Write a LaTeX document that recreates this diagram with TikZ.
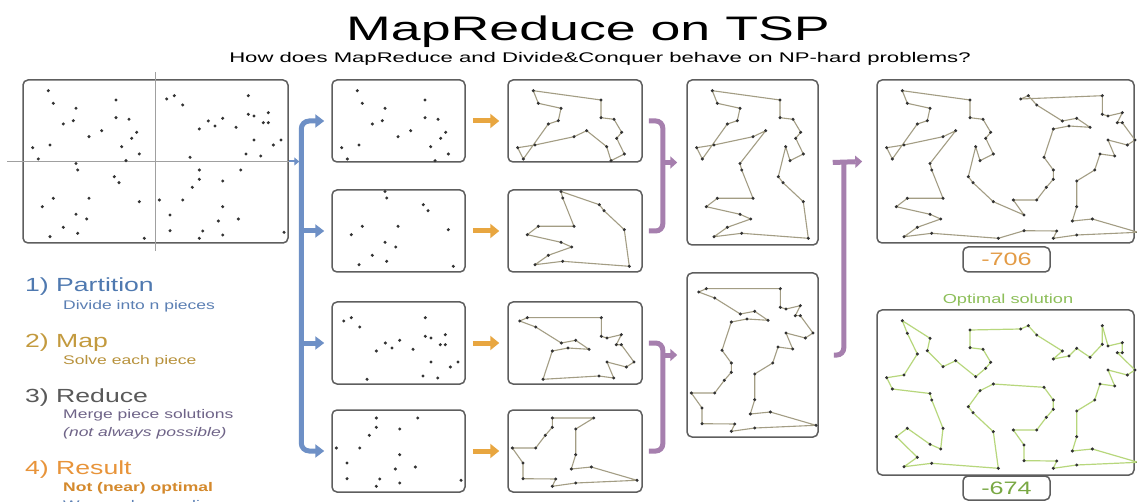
\documentclass[tikz,border=0pt]{standalone}
\usepackage{fontspec}
\setmainfont{Liberation Sans}
\usepackage{graphicx}
\usetikzlibrary{arrows.meta}
\definecolor{boxc}{HTML}{5E5E5E}
\definecolor{dotc}{HTML}{333333}
\definecolor{tourc}{HTML}{A39D84}
\definecolor{optc}{HTML}{B7D77C}
\definecolor{bluec}{HTML}{6E90C6}
\definecolor{orc}{HTML}{E8A640}
\definecolor{purc}{HTML}{A67FAE}
\definecolor{crossc}{HTML}{A0A0A0}
\definecolor{t1}{HTML}{4F79B0}
\definecolor{t1s}{HTML}{5B7FB3}
\definecolor{t2}{HTML}{C39A3E}
\definecolor{t2s}{HTML}{B8923C}
\definecolor{t3}{HTML}{595959}
\definecolor{t3s}{HTML}{6F6488}
\definecolor{t4}{HTML}{E8943A}
\definecolor{t4s}{HTML}{D4892C}
\definecolor{badc}{HTML}{E39B45}
\definecolor{goodc}{HTML}{79A843}
\definecolor{goodt}{HTML}{8DBF5A}
\newcommand\sx[1]{\scalebox{1.4}[1]{#1}}
\newcommand\sxw[1]{\scalebox{1.58}[1]{#1}}
\newcommand\allpts{%
\foreach \i/\px/\py in {1/48.3/90.7,2/53.3/103.3,3/76/108.3,4/116/100,5/63.3/124,6/73.3/120.7,7/116/117.7,8/129/119.3,9/101.7/130.7,10/136.7/132.3,11/89/136.7,12/131.7/138.3,13/50/145,14/121.7/146.7,15/32.7/147.7,16/139.3/154,17/38.3/159,18/126/160.7,
19/76/163.5,20/77.7/170,21/114.3/176.7,22/119/182.7,23/53.3/198.3,24/89/198.3,25/139.3/201.7,26/42.3/206.7,27/76/214.3,28/86.7/219,29/63.3/227.3,30/77.7/233.3,31/50/236.7,32/144.3/238.3,
33/166.7/99,34/174.3/95.7,35/182.7/105,36/248.3/95.7,37/248.3/114.3,38/254/116,39/268.3/112.7,40/208.3/121,41/222.7/118.3,42/199.3/129,43/215/126,44/236/127.3,45/263.3/122.7,46/268.3/122.7,47/254/140,48/281/140,49/273.3/145,50/246/154,51/260.7/156,52/190/157.3,
53/199.3/170,54/240.7/170,55/199.3/179.3,56/222.7/181,57/192.3/187.3,58/159.3/200,59/182.7/200,60/222.7/206.7,61/170/215,62/238.3/219,63/218.3/221,64/170/230.7,65/202.7/231,66/222.7/235,67/199.3/238.3,68/284/232.3}
{\coordinate (p\i) at (\px,\py);}}
\newcommand\drawdots[1]{\foreach \i in {#1}{\fill[dotc] (p\i) circle (1.7pt);}}
\newcommand\drawtour[3]{\draw[#1] (p#2) \foreach \j in #3 {-- (p\j)} -- cycle;}
\newcommand\TLt{4,7,8,10,12,16,18,14,9,11,13,15,17,5,6,3,2}
\newcommand\BLt{21,22,25,32,30,31,29,28,27,26,23,24,20}
\newcommand\TRt{34,36,37,38,39,45,46,48,49,47,51,50,52,42,43,44,41,40,35}
\newcommand\BRt{54,56,60,63,62,68,66,67,65,64,61,58,59,57,55}
\newcommand\At{4,7,8,10,12,16,18,14,21,22,25,32,30,31,29,28,27,26,23,24,20,19,9,11,13,15,17,5,6,3,2}
\newcommand\Bt{34,36,37,38,39,45,46,48,49,47,51,50,54,56,60,63,62,68,66,67,65,64,61,58,59,57,55,53,52,42,43,44,41,40,35}
\newcommand\Rt{30,31,29,28,27,26,23,24,20,19,9,11,13,15,17,5,6,3,2,1,4,7,8,10,12,16,18,14,21,22,25,61,58,59,57,55,53,52,42,43,44,41,40,35,34,33,36,37,38,39,45,46,48,49,47,51,50,54,56,60,63,62,68,66,67,65,64}
\newcommand\Ot{3,6,11,9,14,12,10,8,7,4,33,34,35,40,42,43,41,44,37,36,38,39,46,45,48,49,47,51,50,54,56,60,63,62,68,66,67,65,64,61,58,59,57,55,53,52,16,18,21,22,25,32,30,31,29,26,23,27,28,24,20,19,17,15,13,5,2}
\tikzset{
 pbox/.style={draw=boxc, line width=1.5pt, rounded corners=5pt, inner sep=0pt},
 tour/.style={draw=tourc, line width=1.1pt, line join=round},
 opttour/.style={draw=optc, line width=1.2pt, line join=round},
 bluearr/.style={draw=bluec, line width=5pt},
 orarr/.style={draw=orc, line width=5pt, -{Triangle[length=9pt,width=14pt]}},
 purarr/.style={draw=purc, line width=5pt},
 lbl/.style={anchor=base west, inner sep=0pt},
}
\begin{document}
\begin{tikzpicture}[x=1pt,y=-1pt]
\fill[white] (0,0) rectangle (1137,502);
\useasboundingbox (0,0) rectangle (1137,502);
% title
\node[anchor=base, inner sep=0pt] (title) at (588,41) {\fontsize{34}{38}\selectfont\sxw{MapReduce on TSP}};
\node[anchor=base, inner sep=0pt] (subtitle) at (600,63) {\fontsize{14}{16}\selectfont\sxw{How does MapReduce and Divide\&Conquer behave on NP-hard problems?}};
% boxes
\node[pbox, minimum width=265, minimum height=163] (big) at (155.5,161.5) {};
\node[pbox, minimum width=133, minimum height=82] (c1) at (398.5,121) {};
\node[pbox, minimum width=133, minimum height=82] (c2) at (398.5,231) {};
\node[pbox, minimum width=133, minimum height=82] (c3) at (398.5,343) {};
\node[pbox, minimum width=133, minimum height=82] (c4) at (398.5,451) {};
\node[pbox, minimum width=134, minimum height=82] (d1) at (575,121) {};
\node[pbox, minimum width=134, minimum height=82] (d2) at (575,231) {};
\node[pbox, minimum width=134, minimum height=82] (d3) at (575,343) {};
\node[pbox, minimum width=134, minimum height=82] (d4) at (575,451) {};
\node[pbox, minimum width=131, minimum height=165] (A) at (752.5,162.5) {};
\node[pbox, minimum width=131, minimum height=164] (B) at (752.5,355) {};
\node[pbox, minimum width=257, minimum height=163] (R) at (1005.5,161.5) {};
\node[pbox, minimum width=257, minimum height=165] (O) at (1005.5,392.5) {};
\node[pbox, minimum width=87, minimum height=25] (s706) at (1006.5,259.5) {\fontsize{18}{20}\selectfont\color{badc}\sx{-706}};
\node[pbox, minimum width=87, minimum height=24] (s674) at (1006.5,488) {\fontsize{18}{20}\selectfont\color{goodc}\sx{-674}};
\node[anchor=base, inner sep=0pt, text=goodt] (optl) at (1008,304) {\fontsize{13}{15}\selectfont\sx{Optimal solution}};
% cross lines of the big box
\draw[crossc, line width=0.9pt] ([yshift=7pt]big.north) -- ([yshift=-7pt]big.south);
\draw[crossc, line width=0.9pt] ([xshift=-15pt]big.west) -- ([xshift=3pt]big.east);
% points: big box
\begin{scope}\allpts\drawdots{1,...,68}\end{scope}
% column 2
\begin{scope}[shift={(309,0)}]\allpts\drawdots{1,...,18}\end{scope}
\begin{scope}[shift={(309,28)}]\allpts\drawdots{19,...,32}\end{scope}
\begin{scope}[shift={(177,222)}]\allpts\drawdots{33,...,52}\end{scope}
\begin{scope}[shift={(177,248)}]\allpts\drawdots{53,...,68}\end{scope}
% column 3
\begin{scope}[shift={(485,0)}]\allpts\drawtour{tour}{1}{\TLt}\drawdots{1,...,18}\end{scope}
\begin{scope}[shift={(485,28)}]\allpts\drawtour{tour}{19}{\BLt}\drawdots{19,...,32}\end{scope}
\begin{scope}[shift={(353,222)}]\allpts\drawtour{tour}{33}{\TRt}\drawdots{33,...,52}\end{scope}
\begin{scope}[shift={(353,248)}]\allpts\drawtour{tour}{53}{\BRt}\drawdots{53,...,68}\end{scope}
% column 4
\begin{scope}[shift={(664,0)}]\allpts\drawtour{tour}{1}{\At}\drawdots{1,...,32}\end{scope}
\begin{scope}[shift={(532,193)}]\allpts\drawtour{tour}{33}{\Bt}\drawdots{33,...,68}\end{scope}
% result and optimal
\begin{scope}[shift={(854,0)}]\allpts\drawtour{tour}{32}{\Rt}\drawdots{1,...,68}\end{scope}
\begin{scope}[shift={(854,230)}]\allpts\drawtour{opttour}{1}{\Ot}\drawdots{1,...,68}\end{scope}
% blue partition bracket
\coordinate (bl) at ([xshift=-30pt]c1.west);
\draw[bluearr, rounded corners=8pt, {Triangle[length=9pt,width=13pt]}-{Triangle[length=9pt,width=13pt]}] ([xshift=-7pt]c1.west) -| (bl |- c4.west) -- ([xshift=-7pt]c4.west);
\draw[bluearr, -{Triangle[length=9pt,width=13pt]}] (bl |- c2.west) -- ([xshift=-7pt]c2.west);
\draw[bluearr, -{Triangle[length=9pt,width=13pt]}] (bl |- c3.west) -- ([xshift=-7pt]c3.west);
\draw[bluec, line width=2pt, -{Triangle[length=5pt,width=8pt]}] (big.east) -- ([xshift=-2pt]bl |- big.east);
% orange map arrows
\draw[orarr] ([xshift=7pt]c1.east) -- ([xshift=-8pt]d1.west);
\draw[orarr] ([xshift=7pt]c2.east) -- ([xshift=-8pt]d2.west);
\draw[orarr] ([xshift=7pt]c3.east) -- ([xshift=-8pt]d3.west);
\draw[orarr] ([xshift=7pt]c4.east) -- ([xshift=-8pt]d4.west);
% purple reduce brackets
\draw[purarr, rounded corners=7pt] ([xshift=6pt]d1.east) -| ([xshift=20pt]d2.east) -- ([xshift=6pt]d2.east);
\draw[purarr, -{Triangle[length=7pt,width=12pt]}] ([xshift=20pt]d1.east |- A.west) -- ([xshift=-9pt]A.west);
\draw[purarr, rounded corners=7pt] ([xshift=6pt]d3.east) -| ([xshift=20pt]d4.east) -- ([xshift=6pt]d4.east);
\draw[purarr, -{Triangle[length=7pt,width=12pt]}] ([xshift=20pt]d3.east |- B.west) -- ([xshift=-9pt]B.west);
\draw[purarr, rounded corners=7pt] ([xshift=15pt]B.east) -| ([xshift=25pt]A.east);
\draw[purarr, -{Triangle[length=7pt,width=12pt]}] ([xshift=14pt]A.east) -- ([xshift=-14pt]R.west);
% left legend
\node[lbl, text=t1] (h1) at (25,292) {\fontsize{19}{21}\selectfont\sx{1) Partition}};
\node[lbl, text=t1s] (h1s) at (63,309) {\fontsize{12.5}{14}\selectfont\sx{Divide into n pieces}};
\node[lbl, text=t2] (h2) at (25,347) {\fontsize{19}{21}\selectfont\sx{2) Map}};
\node[lbl, text=t2s] (h2s) at (63,364) {\fontsize{12.5}{14}\selectfont\sx{Solve each piece}};
\node[lbl, text=t3] (h3) at (25,402) {\fontsize{19}{21}\selectfont\sx{3) Reduce}};
\node[lbl, text=t3s] (h3s) at (63,418) {\fontsize{12.5}{14}\selectfont\sx{Merge piece solutions}};
\node[lbl, text=t3s] (h3i) at (63,436) {\fontsize{12.5}{14}\selectfont\sx{\itshape (not always possible)}};
\node[lbl, text=t4] (h4) at (25,474) {\fontsize{19}{21}\selectfont\sx{4) Result}};
\node[lbl, text=t4s] (h4s) at (63,491) {\fontsize{12.5}{14}\selectfont\sx{\bfseries Not (near) optimal}};
\node[lbl, text=t1s] (h4w) at (63,509) {\fontsize{12.5}{14}\selectfont\sx{Worse when scaling}};
\end{tikzpicture}
\end{document}
